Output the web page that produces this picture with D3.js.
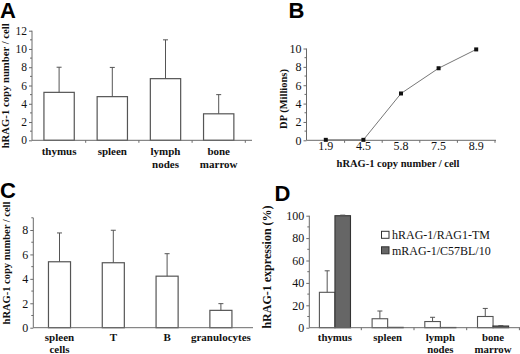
<!DOCTYPE html>
<html><head><meta charset="utf-8">
<script src="https://cdn.jsdelivr.net/npm/d3@7/dist/d3.min.js"></script>
<style>
body{margin:0;background:#fff;}
svg{display:block;}
text{font-family:"Liberation Serif","Times New Roman",serif !important;fill:#111;}
.lbl{font-weight:bold;}
text.letter{font-family:"Liberation Sans",Arial,sans-serif !important;font-weight:bold;font-size:22px;fill:#000;}
</style></head>
<body>
<svg id="c" width="520" height="354"></svg>
<script>
// Panel A
const catsA = ["thymus", "spleen", "lymph nodes", "bone marrow"];
const valsA = [5.25, 4.78, 6.75, 2.9];
const sdA = [2.75, 3.2, 4.25, 2.1];
const ticksA = [0, 2, 4, 6, 8, 10, 12];
// Panel B
const catsB = ["1.9", "4.5", "5.8", "7.5", "8.9"];
const valsB = [0.05, 0.05, 5.1, 7.85, 9.9];
const ticksB = [0, 2, 4, 6, 8, 10];
// Panel C
const catsC = ["spleen cells", "T", "B", "granulocytes"];
const valsC = [5.4, 5.32, 4.22, 1.42];
const sdC = [2.36, 2.66, 1.84, 0.55];
const ticksC = [0, 2, 4, 6, 8];
// Panel D
const catsD = ["thymus", "spleen", "lymph nodes", "bone marrow"];
const seriesD = ["hRAG-1/RAG1-TM", "mRAG-1/C57BL/10"];
const valsD_h = [31.6, 8.0, 5.5, 10.0];
const sdD_h = [19.2, 6.9, 3.8, 7.2];
const valsD_m = [100, 0.3, 0.2, 1.5];
const sdD_m = [0.5, 0, 0, 0.4];
const ticksD = [0, 20, 40, 60, 80, 100];

const svg = d3.select("#c");
const AX = "#6a6a6a", BAR = "#555";
const SERIF = '"Liberation Serif","Times New Roman",serif';

function yAxis(g, y, x0, ticks, minor, fs) {
  g.append("line").attr("x1", x0).attr("x2", x0).attr("y1", y.range()[0]).attr("y2", y.range()[1]).attr("stroke", AX).attr("stroke-width", 1);
  const ax = d3.axisLeft(y).tickValues(ticks).tickSize(3).tickPadding(2);
  const a = g.append("g").attr("transform", `translate(${x0},0)`).call(ax);
  a.attr("font-family", null);
  a.select(".domain").remove();
  a.selectAll(".tick line").attr("stroke", AX);
  a.selectAll(".tick text").style("font-family", SERIF).style("font-size", fs + "px").attr("fill", "#111");
  g.selectAll(null).data(minor).enter().append("line")
    .attr("x1", x0 - 2).attr("x2", x0).attr("y1", d => y(d)).attr("y2", d => y(d)).attr("stroke", AX);
}
function xAxisBand(g, x, y0, xs, xe, tickXs) {
  g.append("line").attr("x1", xs).attr("x2", xe).attr("y1", y0).attr("y2", y0).attr("stroke", AX);
  g.selectAll(null).data(tickXs).enter().append("line")
    .attr("x1", d => d).attr("x2", d => d).attr("y1", y0).attr("y2", y0 + 2.5).attr("stroke", AX);
}
function catLabels(g, x, cats, y1, lh, fs) {
  cats.forEach(c => {
    const t = g.append("text").attr("class", "lbl").attr("text-anchor", "middle").style("font-size", fs + "px")
      .attr("x", x(c) + x.bandwidth() / 2).attr("y", y1);
    c.split(" ").forEach((w, i) => t.append("tspan").attr("x", x(c) + x.bandwidth() / 2).attr("dy", i ? lh : 0).text(w));
  });
}
function errBars(g, cx, vals, sds, y, cap) {
  vals.forEach((v, i) => {
    if (!sds[i]) return;
    const xc = cx(i);
    g.append("line").attr("x1", xc).attr("x2", xc).attr("y1", y(v)).attr("y2", y(v + sds[i])).attr("stroke", BAR);
    g.append("line").attr("x1", xc - cap).attr("x2", xc + cap).attr("y1", y(v + sds[i])).attr("y2", y(v + sds[i])).attr("stroke", BAR);
  });
}
function yTitle(g, txt, x, yc, fs) {
  g.append("text").attr("class", "lbl").style("font-size", fs + "px").attr("text-anchor", "middle")
    .attr("transform", `translate(${x},${yc}) rotate(-90)`).text(txt);
}
function bandTicks(x) {
  const s = x.step(), out = [];
  const first = x(x.domain()[0]) - x.paddingOuter() * s;
  for (let i = 0; i <= x.domain().length; i++) out.push(first + i * s);
  return out;
}

// ---------- Panel A ----------
{
  const g = svg.append("g");
  const y = d3.scaleLinear().domain([0, 12]).range([140.3, 30.7]);
  const x = d3.scaleBand().domain(catsA).range([32.5, 245.3]).paddingInner(0.43).paddingOuter(0.215);
  g.selectAll(null).data(catsA).enter().append("rect")
    .attr("x", d => x(d)).attr("width", x.bandwidth())
    .attr("y", (d, i) => y(valsA[i])).attr("height", (d, i) => y(0) - y(valsA[i]))
    .attr("fill", "#fff").attr("stroke", BAR).attr("stroke-width", 1.2);
  errBars(g, i => x(catsA[i]) + x.bandwidth() / 2, valsA, sdA, y, 2.5);
  yAxis(g, y, 32, ticksA, [1, 3, 5, 7, 9, 11], 11.5);
  xAxisBand(g, x, 140.3, 32, 252, bandTicks(x).slice(1));
  catLabels(g, x, catsA, 155, 13, 11);
  yTitle(g, "hRAG-1 copy number / cell", 9, 85.8, 10.7);
  g.append("text").attr("class", "letter").attr("x", 0).attr("y", 18.3).text("A");
}
// ---------- Panel B ----------
{
  const g = svg.append("g");
  const y = d3.scaleLinear().domain([0, 10]).range([140.3, 48.5]);
  const x = d3.scaleBand().domain(catsB).range([307, 495]);
  const cx = d => x(d) + x.bandwidth() / 2;
  yAxis(g, y, 306.5, ticksB, [1, 3, 5, 7, 9], 12);
  xAxisBand(g, x, 140.3, 306.5, 496, bandTicks(x).slice(1));
  const line = d3.line().x((d, i) => cx(catsB[i])).y(d => y(d));
  g.append("path").datum(valsB).attr("d", line).attr("fill", "none").attr("stroke", "#777").attr("stroke-width", 1);
  g.selectAll(null).data(valsB).enter().append("rect")
    .attr("x", (d, i) => cx(catsB[i]) - 2).attr("y", d => y(d) - 2).attr("width", 4).attr("height", 4).attr("fill", "#111");
  catsB.forEach(c => g.append("text").attr("x", cx(c)).attr("y", 150).attr("text-anchor", "middle").style("font-size", "12px").text(c));
  g.append("text").attr("class", "lbl").style("font-size", "10.5px").attr("text-anchor", "middle").attr("x", 398).attr("y", 166.5).text("hRAG-1 copy number / cell");
  yTitle(g, "DP (Millions)", 286.5, 99, 10.5);
  g.append("text").attr("class", "letter").attr("x", 288.5).attr("y", 18.3).text("B");
}
// ---------- Panel C ----------
{
  const g = svg.append("g");
  const y = d3.scaleLinear().domain([0, 9]).range([327.7, 217.8]);
  const x = d3.scaleBand().domain(catsC).range([32.6, 247.8]).paddingInner(0.59).paddingOuter(0.295);
  g.selectAll(null).data(catsC).enter().append("rect")
    .attr("x", d => x(d)).attr("width", x.bandwidth())
    .attr("y", (d, i) => y(valsC[i])).attr("height", (d, i) => y(0) - y(valsC[i]))
    .attr("fill", "#fff").attr("stroke", BAR).attr("stroke-width", 1.2);
  errBars(g, i => x(catsC[i]) + x.bandwidth() / 2, valsC, sdC, y, 2.5);
  yAxis(g, y, 33.3, ticksC, [1, 3, 5, 7, 9], 12);
  xAxisBand(g, x, 327.7, 33.3, 253, []);
  catLabels(g, x, catsC, 340.5, 12, 11);
  yTitle(g, "hRAG-1 copy number / cell", 9.5, 263, 10.5);
  g.append("text").attr("class", "letter").attr("x", 0).attr("y", 197.7).text("C");
}
// ---------- Panel D ----------
{
  const g = svg.append("g");
  const y = d3.scaleLinear().domain([0, 100]).range([327.7, 215.7]);
  const x = d3.scaleBand().domain(catsD).range([308.6, 519.4]).paddingInner(0.41).paddingOuter(0.205);
  const xs = d3.scaleBand().domain(seriesD).range([0, x.bandwidth()]);
  const col = d3.scaleOrdinal().domain(seriesD).range(["#fff", "#666"]);
  const vals = [valsD_h, valsD_m], sds = [sdD_h, sdD_m];
  seriesD.forEach((s, si) => {
    g.selectAll(null).data(catsD).enter().append("rect")
      .attr("x", d => x(d) + xs(s)).attr("width", xs.bandwidth())
      .attr("y", (d, i) => y(vals[si][i])).attr("height", (d, i) => y(0) - y(vals[si][i]))
      .attr("fill", col(s)).attr("stroke", si ? "#333" : BAR).attr("stroke-width", 1.1);
    errBars(g, i => x(catsD[i]) + xs(s) + xs.bandwidth() / 2, vals[si], sds[si], y, 2.5);
  });
  yAxis(g, y, 309.3, ticksD, [10, 30, 50, 70, 90], 12);
  xAxisBand(g, x, 327.7, 309.3, 520, bandTicks(x).slice(1));
  catLabels(g, x, catsD, 340.5, 12.5, 10.8);
  yTitle(g, "hRAG-1 expression (%)", 271, 267, 12);
  // legend
  seriesD.forEach((s, i) => {
    g.append("rect").attr("x", 381.5).attr("y", 231.3 + i * 15.5).attr("width", 7.5).attr("height", 7)
      .attr("fill", col(s)).attr("stroke", "#333").attr("stroke-width", 1);
    g.append("text").attr("x", 392).attr("y", 239 + i * 15.5).style("font-size", "12px").text(s);
  });
  g.append("text").attr("class", "letter").attr("x", 274.5).attr("y", 201).text("D");
}
</script>
</body></html>
